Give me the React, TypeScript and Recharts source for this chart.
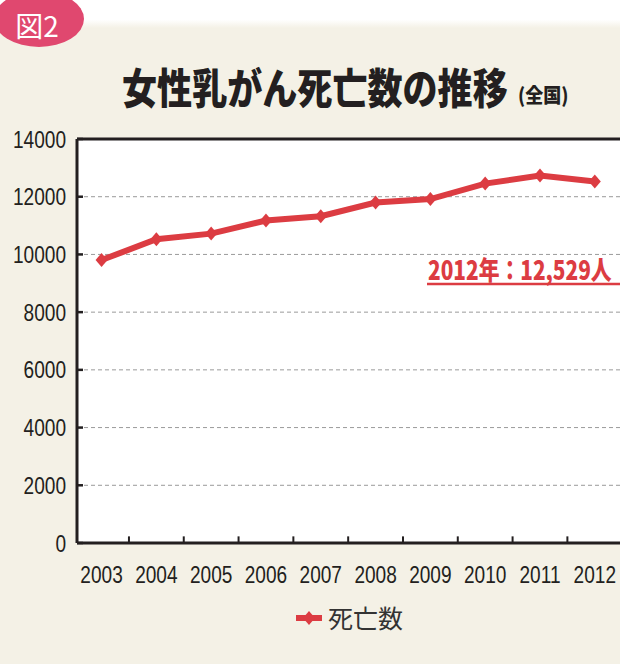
import { LineChart, Line, XAxis, YAxis, CartesianGrid, ReferenceLine } from "recharts";

const years = [2003, 2004, 2005, 2006, 2007, 2008, 2009, 2010, 2011, 2012];
const deaths = [9805, 10524, 10721, 11177, 11323, 11797, 11918, 12455, 12731, 12529];
const yTicks = [0, 2000, 4000, 6000, 8000, 10000, 12000, 14000];
const boundaryTicks = [2003.5, 2004.5, 2005.5, 2006.5, 2007.5, 2008.5, 2009.5, 2010.5, 2011.5];
const seriesName = "死亡数";
const title = "女性乳がん死亡数の推移";
const titleNote = "(全国)";
const callout = "2012年：12,529人";
const figLabel = "図2";

const RED = "#dc3c42";
const INK = "#231f20";
const BG = "#f4f1e6";
const NUM_FONT = "'Liberation Sans', Arial, sans-serif";
const JP_FONT = "'Noto Sans CJK JP', sans-serif";
const NUM_SIZE = 24;
// liberation digits are 0.556em wide, squeeze them to ~10.6px like the condensed original
const NUM_SCALE = 10.6 / (0.556 * NUM_SIZE);

const data = years.map((year, i) => ({ year, deaths: deaths[i] }));

const Diamond = ({ cx, cy }: any) => {
  if (cx == null || cy == null) return null;
  return <path d={`M${cx} ${cy - 7}L${cx + 6} ${cy}L${cx} ${cy + 7}L${cx - 6} ${cy}Z`} fill={RED} />;
};

const XTick = ({ x, y, payload }: any) => (
  <text
    transform={`translate(${x},${y + 38}) scale(${NUM_SCALE},1)`}
    textAnchor="middle"
    fontFamily={NUM_FONT}
    fontSize={NUM_SIZE}
    fill={INK}
  >
    {payload.value}
  </text>
);

const YTick = ({ y, payload }: any) => (
  <g>
    <line x1={77} x2={83} y1={y} y2={y} stroke={INK} strokeWidth={2.5} />
    <text
      transform={`translate(66,${y + 8.5}) scale(${NUM_SCALE},1)`}
      textAnchor="end"
      fontFamily={NUM_FONT}
      fontSize={NUM_SIZE}
      fill={INK}
    >
      {payload.value}
    </text>
  </g>
);

const Overlay = () => (
  <svg width={620} height={664} style={{ position: "absolute", left: 0, top: 0, pointerEvents: "none" }}>
    <defs>
      <linearGradient id="band" x1="0" y1="0" x2="0" y2="1">
        <stop offset="0.7" stopColor="#ffffff" />
        <stop offset="1" stopColor={BG} />
      </linearGradient>
    </defs>
    <rect x={0} y={0} width={620} height={28} fill="url(#band)" />
    <ellipse cx={39} cy={19} rx={45} ry={28} fill="#e0486f" />
    <text x={37} y={37} textAnchor="middle" fontFamily={JP_FONT} fontSize={28} fontWeight={400} fill="#fff">
      {figLabel}
    </text>
    <text transform="translate(122,104) scale(0.835,1)" fontFamily={JP_FONT} fontSize={42} fontWeight={900} fill={INK}>
      {title}
    </text>
    <text transform="translate(518,103) scale(0.9,1)" fontFamily={JP_FONT} fontSize={20} fontWeight={900} fill={INK}>
      {titleNote}
    </text>
    <text transform="translate(428,280) scale(0.8,1)" fontFamily={JP_FONT} fontSize={26} fontWeight={900} fill={RED}>
      {callout}
    </text>
    <line x1={427} x2={620} y1={284} y2={284} stroke={RED} strokeWidth={2.5} />
    <line x1={296} x2={322} y1={618} y2={618} stroke={RED} strokeWidth={6} />
    <Diamond cx={309} cy={618} />
    <text x={328} y={628} fontFamily={JP_FONT} fontSize={25} fill="#333">
      {seriesName}
    </text>
  </svg>
);

export default function App() {
  return (
    <div style={{ position: "absolute", left: 0, top: 0, width: 620, height: 664, background: BG, overflow: "hidden" }}>
      <LineChart width={620} height={664} data={data} margin={{ top: 139, right: 0, left: 0, bottom: 81 }}>
        <CartesianGrid vertical={false} fill="#ffffff" stroke="#9a9a9a" strokeDasharray="4 3" />
        <XAxis
          dataKey="year"
          type="number"
          domain={[2002.552, 2012.46]}
          ticks={years}
          allowDataOverflow
          height={40}
          tickLine={false}
          tickSize={0}
          axisLine={{ stroke: INK, strokeWidth: 3 }}
          tick={<XTick />}
        />
        <YAxis
          domain={[0, 14000]}
          ticks={yTicks}
          width={77}
          tickLine={false}
          tickSize={0}
          axisLine={{ stroke: INK, strokeWidth: 3 }}
          tick={<YTick />}
        />
        <ReferenceLine y={14000} stroke={INK} strokeWidth={3} />
        {boundaryTicks.map((t) => (
          <ReferenceLine
            key={t}
            segment={[{ x: t, y: 0 }, { x: t, y: 230 }]}
            stroke={INK}
            strokeWidth={2}
          />
        ))}
        <Line
          type="linear"
          dataKey="deaths"
          name={seriesName}
          stroke={RED}
          strokeWidth={6}
          dot={<Diamond />}
          activeDot={false}
          isAnimationActive={false}
        />
      </LineChart>
      <Overlay />
    </div>
  );
}
